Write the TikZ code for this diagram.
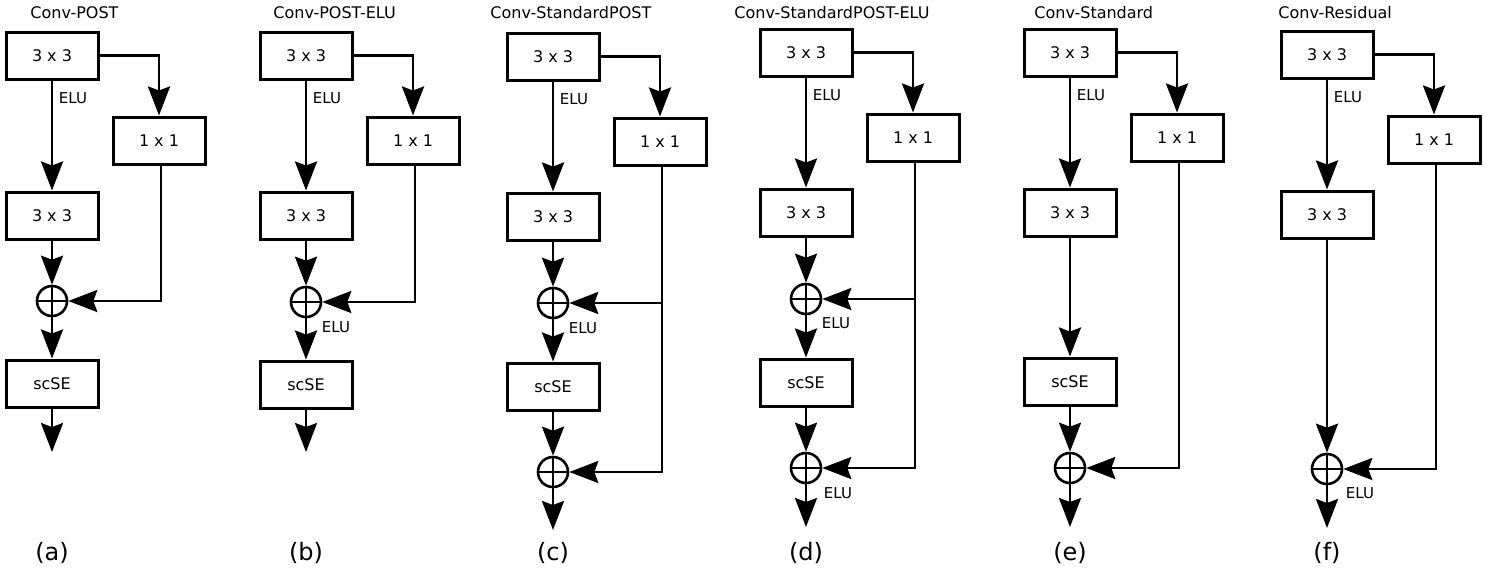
\documentclass[tikz,border=0pt]{standalone}
\usepackage{fontspec}
\setmainfont{DejaVu Sans}
\usetikzlibrary{arrows.meta,calc}

\tikzset{
    block/.style={draw, line width=3pt, minimum width=92pt, minimum height=47pt, inner sep=0pt, font=\fontsize{16}{18}\selectfont},
    sumnode/.style={draw, circle, line width=2.6pt, minimum size=30pt, inner sep=0pt,
        path picture={\draw[line width=2.6pt] (path picture bounding box.north) -- (path picture bounding box.south)
            (path picture bounding box.west) -- (path picture bounding box.east);}},
    lbl/.style={inner sep=0pt, font=\fontsize{15}{17}\selectfont},
    ttl/.style={anchor=west, inner sep=0pt, font=\fontsize{16}{18}\selectfont},
    tag/.style={inner sep=0pt, font=\fontsize{24}{28}\selectfont}
}

\begin{document}
\begin{tikzpicture}[x=1pt, y=-1pt, >={Stealth[length=29pt,width=22pt,inset=4pt]}, line width=2.8pt]
    \useasboundingbox (0,0) rectangle (1497,571);

    % parts shared by all six blocks
    \foreach \mx/\ty/\tx/\lab/\name in {52/32/29/a/Conv-POST, 306/32/272/b/Conv-POST-ELU, 553/33/489/c/Conv-StandardPOST, 806/29/733/d/Conv-StandardPOST-ELU, 1070/29/1033/e/Conv-Standard, 1327/31/1277/f/Conv-Residual}{
        \node[ttl] (title\lab) at (\tx,13) {\name};
        \node[block] (top\lab) at (\mx,\ty+23.5) {3 x 3};
        \node[block] (one\lab) at (\mx+107,\ty+108.5) {1 x 1};
        \node[block] (mid\lab) at (\mx,\ty+183.5) {3 x 3};
        \node[lbl] (elu\lab) at (\mx+21,\ty+66) {ELU};
        \node[tag] (tag\lab) at (\mx,553) {(\lab)};
        \coordinate (out\lab) at ($(one\lab.south)+(2,0)$);
        \draw[->] (top\lab.east) -| (one\lab.north);
        \draw[->] (top\lab.south) -- (mid\lab.north);
    }

    % (a) Conv-POST
    \node[sumnode] (suma) at (52,301) {};
    \node[block] (sea) at (52,383.5) {scSE};
    \coordinate (enda) at (52,452);
    \draw[->] (mida.south) -- (suma.north);
    \draw[->] (outa) |- (suma.east);
    \draw[->] (suma.south) -- (sea.north);
    \draw[->] (sea.south) -- (enda);

    % (b) Conv-POST-ELU
    \node[sumnode] (sumb) at (306,302) {};
    \node[lbl] (elub2) at (336,327) {ELU};
    \node[block] (seb) at (306,384.5) {scSE};
    \coordinate (endb) at (306,452);
    \draw[->] (midb.south) -- (sumb.north);
    \draw[->] (outb) |- (sumb.east);
    \draw[->] (sumb.south) -- (seb.north);
    \draw[->] (seb.south) -- (endb);

    % (c) Conv-StandardPOST
    \node[sumnode] (sumc1) at (553,303) {};
    \node[lbl] (eluc2) at (583,328) {ELU};
    \node[block] (sec) at (553,386.5) {scSE};
    \node[sumnode] (sumc2) at (553,472) {};
    \coordinate (endc) at (553,530);
    \draw[->] (midc.south) -- (sumc1.north);
    \draw[->] (outc |- sumc1.east) -- (sumc1.east);
    \draw[->] (outc) |- (sumc2.east);
    \draw[->] (sumc1.south) -- (sec.north);
    \draw[->] (sec.south) -- (sumc2.north);
    \draw[->] (sumc2.south) -- (endc);

    % (d) Conv-StandardPOST-ELU
    \node[sumnode] (sumd1) at (806,299) {};
    \node[lbl] (elud2) at (836,323) {ELU};
    \node[block] (sed) at (806,382.5) {scSE};
    \node[sumnode] (sumd2) at (806,468) {};
    \node[lbl] (elud3) at (838,493) {ELU};
    \coordinate (endd) at (806,527);
    \draw[->] (midd.south) -- (sumd1.north);
    \draw[->] (outd |- sumd1.east) -- (sumd1.east);
    \draw[->] (outd) |- (sumd2.east);
    \draw[->] (sumd1.south) -- (sed.north);
    \draw[->] (sed.south) -- (sumd2.north);
    \draw[->] (sumd2.south) -- (endd);

    % (e) Conv-Standard
    \node[block] (see) at (1070,381.5) {scSE};
    \node[sumnode] (sume) at (1070,468) {};
    \coordinate (ende) at (1070,527);
    \draw[->] (mide.south) -- (see.north);
    \draw[->] (see.south) -- (sume.north);
    \draw[->] (oute) |- (sume.east);
    \draw[->] (sume.south) -- (ende);

    % (f) Conv-Residual
    \node[sumnode] (sumf) at (1327,469) {};
    \node[lbl] (eluf2) at (1360,493) {ELU};
    \coordinate (endf) at (1327,528);
    \draw[->] (midf.south) -- (sumf.north);
    \draw[->] (outf) |- (sumf.east);
    \draw[->] (sumf.south) -- (endf);
\end{tikzpicture}
\end{document}
